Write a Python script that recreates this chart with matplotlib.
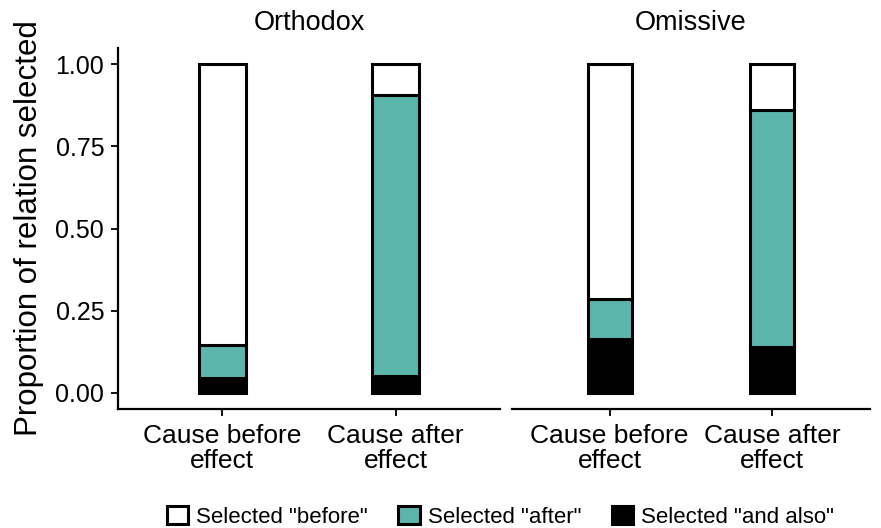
import matplotlib
matplotlib.use("Agg")
import matplotlib.pyplot as plt
from matplotlib.patches import Patch
import numpy as np

plt.rcParams['font.family'] = ['Liberation Sans', 'DejaVu Sans']

panels = ["Orthodox", "Omissive"]
conditions = ["Cause before\neffect", "Cause after\neffect"]
series = ['Selected "before"', 'Selected "after"', 'Selected "and also"']
colors = ["#FFFFFF", "#5BB5AB", "#000000"]
# stacked from bottom: and also, after, before
and_also = {"Orthodox": [0.045, 0.050], "Omissive": [0.164, 0.139]}
after = {"Orthodox": [0.100, 0.858], "Omissive": [0.122, 0.721]}
before = {"Orthodox": [0.855, 0.092], "Omissive": [0.714, 0.140]}
yticks = [0.00, 0.25, 0.50, 0.75, 1.00]

fig = plt.figure(figsize=(8.81, 5.28), dpi=100)
axes = [fig.add_axes([0.134, 0.2254, 0.4335, 0.6836]),
        fig.add_axes([0.581, 0.2254, 0.4065, 0.6836])]

x = np.arange(1, len(conditions) + 1)
w = 0.27
for ax, p in zip(axes, panels):
    b0 = np.zeros(len(x))
    for vals, c in [(and_also[p], colors[2]), (after[p], colors[1]), (before[p], colors[0])]:
        ax.bar(x, vals, w, bottom=b0, color=c, edgecolor="black", linewidth=2.2)
        b0 = b0 + np.array(vals)
    ax.set_xlim(0.4, 2.6)
    ax.set_ylim(-0.05, 1.05)
    ax.set_xticks(x)
    ax.set_xticklabels(conditions, fontsize=19, linespacing=1.05)
    for s in ["top", "right"]:
        ax.spines[s].set_visible(False)
    ax.spines["bottom"].set_linewidth(1.6)
    ax.spines["left"].set_linewidth(1.6)
    ax.tick_params(axis="both", length=5, width=1.3, colors="black")
    ax.tick_params(axis="x", labelsize=19, pad=6)
    ax.tick_params(axis="y", labelsize=18, pad=5)
    ax.set_title(p, fontsize=19.5, pad=13)

axes[0].set_yticks(yticks)
axes[0].set_yticklabels([f"{v:.2f}" for v in yticks])
axes[0].set_ylabel("Proportion of relation selected", fontsize=22.5, labelpad=8)
axes[1].spines["left"].set_visible(False)
axes[1].set_yticks([])

handles = [Patch(facecolor=c, edgecolor="black", linewidth=2.2) for c in colors]
fig.legend(handles, series, loc="lower center", ncol=3, frameon=False,
           bbox_to_anchor=(0.568, -0.025), borderpad=0.1, fontsize=16,
           handlelength=0.95, handleheight=0.85, handletextpad=0.36,
           columnspacing=1.4)

fig.savefig("out.png", dpi=100)
